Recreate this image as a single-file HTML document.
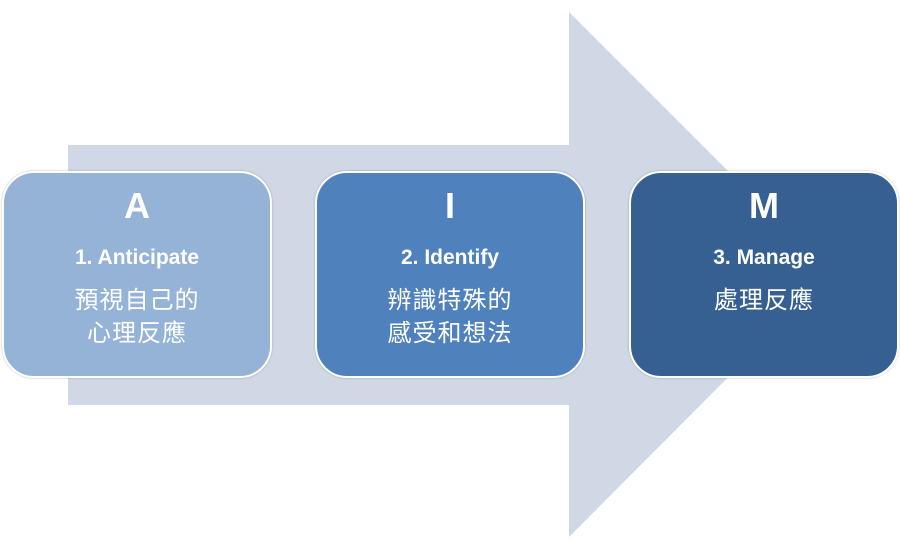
<!DOCTYPE html>
<html><head><meta charset="utf-8"><style>
body{margin:0;width:900px;height:550px;background:#fff;position:relative;overflow:hidden;font-family:"Liberation Sans","Noto Sans CJK TC",sans-serif}
.b{position:absolute;top:171px;width:266px;height:203px;border:2px solid #fff;border-radius:32px;box-shadow:0 0 2px rgba(0,0,0,.25);color:#fff;text-align:center}
.l{position:absolute;top:12px;width:100%;font-size:36px;font-weight:bold}
.e{position:absolute;top:73px;width:100%;font-size:21px;font-weight:bold}
.c{position:absolute;top:111px;width:100%;font-size:24px;line-height:33px;letter-spacing:1px}
</style></head><body>
<svg width="900" height="550" style="position:absolute;left:0;top:0">
<polygon points="68,145 569,145 569,12 831,274 569,537 569,405 68,405" fill="#D0D8E6"/>
</svg>
<div class="b" style="left:2px;background:#95B3D7"><div class="l">A</div><div class="e">1. Anticipate</div><div class="c">預視自己的<br>心理反應</div></div>
<div class="b" style="left:315px;background:#4F81BD"><div class="l">I</div><div class="e">2. Identify</div><div class="c">辨識特殊的<br>感受和想法</div></div>
<div class="b" style="left:629px;background:#366092"><div class="l">M</div><div class="e">3. Manage</div><div class="c">處理反應</div></div>
</body></html>
